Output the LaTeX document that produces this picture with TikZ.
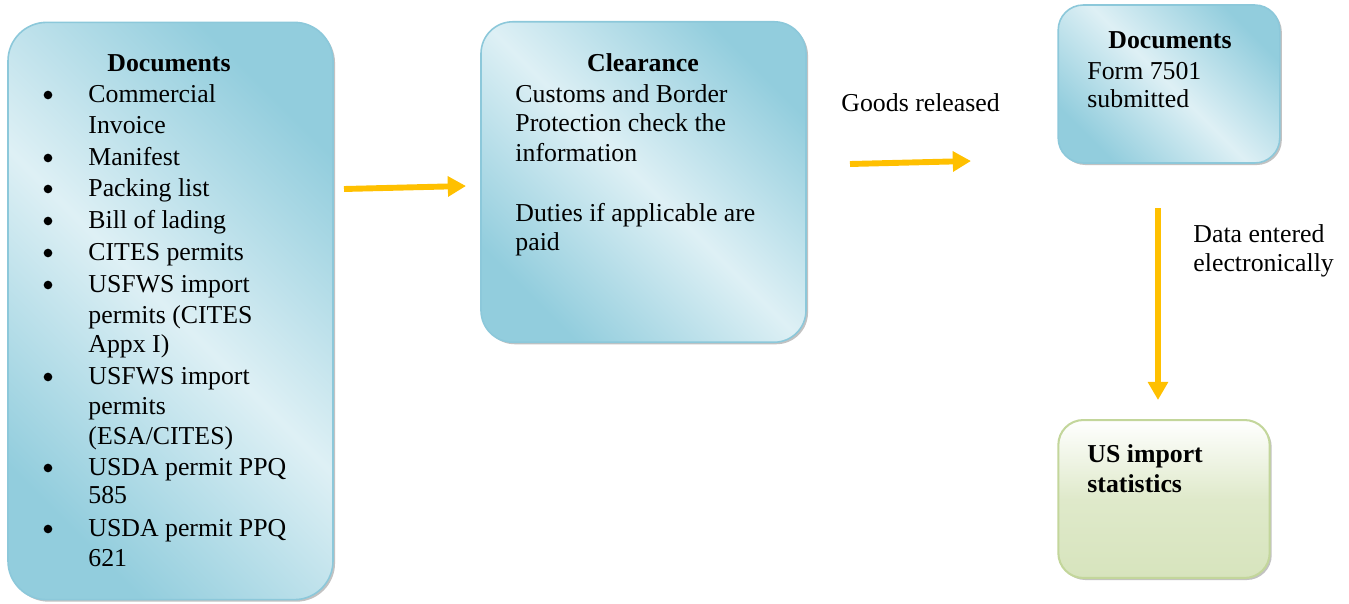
\documentclass[tikz,border=0pt,12pt]{standalone}
\usepackage{fontspec}
\setmainfont{Liberation Serif}
\usetikzlibrary{arrows.meta,shadows}
\definecolor{boxblue}{RGB}{146,205,221}
\definecolor{boxlight}{RGB}{222,240,245}
\definecolor{boxline}{RGB}{140,200,218}
\definecolor{greenline}{RGB}{195,214,155}
\definecolor{greenfill}{RGB}{215,228,189}
\definecolor{arrowgold}{RGB}{255,192,0}
\begin{document}
\begin{tikzpicture}[x=0.44pt,y=-0.44pt,font=\fontsize{11.35}{13.6}\selectfont,
    bluebox/.style={draw=boxline, line width=0.7pt, top color=boxblue, bottom color=boxblue, middle color=boxlight, shading angle=-45,
        drop shadow={shadow xshift=0.9pt, shadow yshift=-0.9pt, fill=gray!80, opacity=0.6}},
    greenbox/.style={draw=greenline, line width=0.9pt, top color=white, bottom color=greenfill, middle color=greenfill!80,
        drop shadow={shadow xshift=0.9pt, shadow yshift=-0.9pt, fill=gray!80, opacity=0.6}},
    flow/.style={arrowgold, line width=2.6pt, -{Triangle[length=8pt,width=8.6pt]}},
    txt/.style={anchor=base west, inner sep=0pt},
    boldtxt/.style={txt, font=\fontsize{11.35}{13.6}\selectfont\bfseries},
    dot/.style={circle, fill=black, inner sep=0pt, minimum size=3.8pt},
    head/.style={anchor=base, inner sep=0pt, font=\fontsize{11.35}{13.6}\selectfont\bfseries}]
    \useasboundingbox (0,0) rectangle (1349,604);
    \node[bluebox, rounded corners=17pt, minimum width=143pt, minimum height=254pt] (docs) at (170.5,311) {};
    \node[bluebox, rounded corners=14pt, minimum width=143pt, minimum height=141pt] (clear) at (643.5,182) {};
    \node[bluebox, rounded corners=11pt, minimum width=97.5pt, minimum height=69.5pt] (form) at (1169,84) {};
    \node[greenbox, rounded corners=11pt, minimum width=93pt, minimum height=69.5pt] (stats) at (1164,499) {};
    \node[head] (docshead) at (169,71) {Documents};
    \foreach \y/\t [count=\i] in {102/Commercial, 133/Invoice, 165/Manifest, 196/Packing list, 228/Bill of lading,
        260/CITES permits, 292/USFWS import, 323/permits (CITES, 352/Appx I), 384/USFWS import, 414/permits,
        444/{(ESA/CITES)}, 475/USDA permit PPQ, 503/585, 536/USDA permit PPQ, 566/621}
        \node[txt] (doc\i) at (88,\y) {\t};
    \foreach \y [count=\i] in {102,165,196,228,260,292,384,475,536}
        \node[dot] (dot\i) at (48,\y-7) {};
    \node[head] (clearhead) at (643,71) {Clearance};
    \node[txt] (clear1) at (515,102) {Customs and Border};
    \node[txt] (clear2) at (515,131) {Protection check the};
    \node[txt] (clear3) at (515,161) {information};
    \node[txt] (clear4) at (515,221) {Duties if applicable are};
    \node[txt] (clear5) at (515,250) {paid};
    \node[head] (formhead) at (1170,48) {Documents};
    \node[txt] (form1) at (1087,79) {Form 7501};
    \node[txt] (form2) at (1087,107) {submitted};
    \node[boldtxt] (stats1) at (1087,462) {US import};
    \node[boldtxt] (stats2) at (1087,492) {statistics};
    \node[txt] (goods) at (841,111) {Goods released};
    \node[txt] (data1) at (1193,242) {Data entered};
    \node[txt] (data2) at (1193,271) {electronically};
    \coordinate (a1s) at (344,189);
    \coordinate (a1e) at (466,186);
    \coordinate (a2s) at (850,164);
    \coordinate (a2e) at (971,161);
    \coordinate (a3s) at (1158,208);
    \coordinate (a3e) at (1158,400);
    \draw[flow] (a1s) -- (a1e);
    \draw[flow] (a2s) -- (a2e);
    \draw[flow] (a3s) -- (a3e);
\end{tikzpicture}
\end{document}
